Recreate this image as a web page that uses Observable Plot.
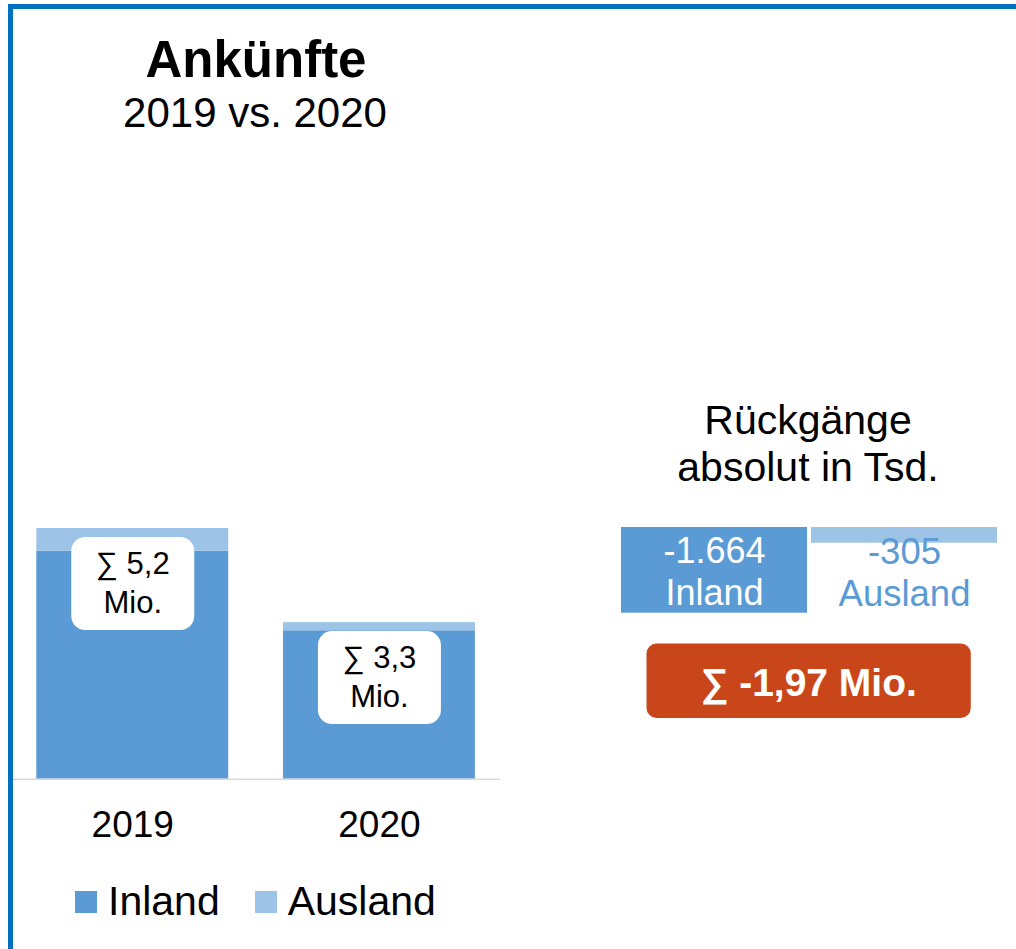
<!DOCTYPE html>
<html>
<head>
<meta charset="utf-8">
<script src="https://cdn.jsdelivr.net/npm/d3@7"></script>
<script src="https://cdn.jsdelivr.net/npm/@observablehq/plot@0.6"></script>
<style>
  html, body { margin: 0; padding: 0; background: #fff; }
  #root { position: relative; width: 1016px; height: 949px; overflow: hidden;
          font-family: "Liberation Sans", Arial, sans-serif; color: #000; }
  #border { position: absolute; left: 8px; top: 4px; right: -20px; bottom: -20px;
            border-left: 5px solid #0070c0; border-top: 5px solid #0070c0; }
  .t { position: absolute; text-align: center; white-space: nowrap; color: #000; }
  .layer { position: absolute; left: 0; top: 0; }
  .layer svg { display: block; }
</style>
</head>
<body>
<div id="root">
  <div id="border"></div>
  <div class="t" style="left:0;width:512px;top:33.8px;font-size:51px;line-height:51px;font-weight:bold;">Ankünfte</div>
  <div class="t" style="left:0;width:510px;top:92.4px;font-size:42px;line-height:42px;">2019 vs. 2020</div>
  <div class="t" style="left:608px;width:400px;top:396.5px;font-size:41px;line-height:47.7px;">Rückgänge<br>absolut in Tsd.</div>
  <div id="plotA" class="layer"></div>
  <div id="plotB" class="layer"></div>
  <div id="plotC" class="layer" style="left:645.7px;top:643.3px;"></div>
  <div id="legend" class="layer" style="left:75px;top:878.2px;"></div>
</div>
<script>
// ---- data ----
const years = ["2019", "2020"];
const series = ["Inland", "Ausland"];
const inland = [4.77, 3.106];      // Ankünfte in Mio.
const ausland = [0.475, 0.170];    // Ankünfte in Mio.
const declineNames = ["Inland", "Ausland"];
const declineValues = [-1664, -305]; // Rückgänge in Tsd.
const colors = ["#5b9bd5", "#9dc3e6"];
const totalColor = "#c9461b";

const FONT = '"Liberation Sans", Arial, sans-serif';
const de = d3.formatLocale({decimal: ",", thousands: ".", grouping: [3], currency: ["", " €"], minus: "-"});
const fmt1 = de.format(".1f");
const fmt2 = de.format(".2f");
const fmtInt = de.format(",d");

const stackData = years.flatMap((y, i) => [
  {year: y, series: "Inland", value: inland[i]},
  {year: y, series: "Ausland", value: ausland[i]}
]);
const totals = years.map((y, i) => ({year: y, total: inland[i] + ausland[i]}));
const declines = declineNames.map((n, i) => ({name: n, value: declineValues[i]}));

// rounded-rectangle symbol for the total labels
function roundBox(w, h, r) {
  return {
    draw(ctx) {
      const x0 = -w / 2, y0 = -h / 2, x1 = w / 2, y1 = h / 2;
      ctx.moveTo(x0 + r, y0);
      ctx.lineTo(x1 - r, y0);
      ctx.arcTo(x1, y0, x1, y0 + r, r);
      ctx.lineTo(x1, y1 - r);
      ctx.arcTo(x1, y1, x1 - r, y1, r);
      ctx.lineTo(x0 + r, y1);
      ctx.arcTo(x0, y1, x0, y1 - r, r);
      ctx.lineTo(x0, y0 + r);
      ctx.arcTo(x0, y0, x0 + r, y0, r);
      ctx.closePath();
    }
  };
}

const baseStyle = {fontFamily: FONT, background: "transparent", overflow: "visible", color: "#000"};

// ---- left: stacked bars ----
const plotA = Plot.plot({
  width: 1016, height: 949,
  marginTop: 528, marginBottom: 170.3, marginLeft: 13, marginRight: 516,
  style: baseStyle,
  x: {domain: years, range: [36.3, 474.9], paddingInner: 0.222, paddingOuter: 0, round: false, label: null},
  y: {domain: [0, d3.max(totals, d => d.total)], axis: null},
  color: {domain: series, range: colors},
  marks: [
    Plot.barY(stackData, {x: "year", y: "value", fill: "series"}),
    Plot.ruleY([0], {stroke: "#d9d9d9", strokeWidth: 1.6}),
    Plot.axisX({tickSize: 0, tickPadding: 31.4, fontSize: 37, label: null, fill: "#000"}),
    Plot.dot(totals, {x: "year", y: "total", symbol: roundBox(123, 93, 14), r: 10, fill: "white", stroke: null, dy: 55}),
    Plot.text(totals, {x: "year", y: "total", text: d => "∑ " + fmt1(d.total) + "\nMio.",
      fontSize: 31, lineAnchor: "top", lineHeight: 1.25, dy: 18, fill: "#000"})
  ]
});
document.getElementById("plotA").append(plotA);

// ---- right: declines ----
const plotB = Plot.plot({
  width: 1016, height: 949,
  marginTop: 527, marginBottom: 949 - 612.7, marginLeft: 621, marginRight: 19,
  style: baseStyle,
  x: {domain: declineNames, range: [621, 997], paddingInner: 0.021, paddingOuter: 0, round: false, axis: null},
  y: {domain: [d3.min(declineValues), 0], axis: null},
  color: {domain: series, range: colors},
  marks: [
    Plot.barY(declines, {x: "name", y: "value", fill: "name"}),
    Plot.text(declines.filter(d => d.name === "Inland"), {x: "name", frameAnchor: "top",
      text: d => fmtInt(d.value) + "\n" + d.name, fill: "white", fontSize: 36,
      lineAnchor: "top", lineHeight: 1.15, dy: 6.3}),
    Plot.text(declines.filter(d => d.name === "Ausland"), {x: "name", frameAnchor: "top",
      text: d => fmtInt(d.value) + "\n" + d.name, fill: colors[0], fontSize: 36.5,
      lineAnchor: "top", lineHeight: 1.15, dy: 6.3})
  ]
});
document.getElementById("plotB").append(plotB);

// ---- total decline box ----
const totalDecline = d3.sum(declineValues) / 1000;
const plotC = Plot.plot({
  width: 324.3, height: 74.4, margin: 0,
  style: baseStyle,
  marks: [
    Plot.frame({fill: totalColor, stroke: null, rx: 10}),
    Plot.text([`∑ ${fmt2(totalDecline)} Mio.`], {frameAnchor: "middle", fill: "white",
      fontSize: 39, fontWeight: "bold", dy: 3})
  ]
});
document.getElementById("plotC").append(plotC);

// ---- legend ----
const legend = Plot.legend({color: {domain: series, range: colors}, swatchSize: 22});
legend.style.fontFamily = FONT;
legend.style.fontSize = "41px";
legend.style.color = "#000";
legend.style.margin = "0";
legend.style.lineHeight = "normal";
Array.from(legend.children).forEach(c => { if (c.tagName !== "STYLE") c.style.marginRight = "35px"; });
legend.querySelectorAll("svg").forEach(s => { s.style.marginRight = "11px"; });
document.getElementById("legend").append(legend);
</script>
</body>
</html>
